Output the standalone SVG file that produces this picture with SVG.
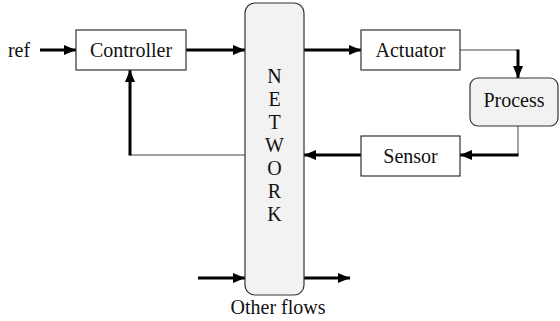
<svg xmlns="http://www.w3.org/2000/svg" width="560" height="321" viewBox="0 0 560 321">
<style>
.box{fill:#fff;stroke:#333;stroke-width:1.2}
.gray{fill:#f2f2f2;stroke:#333;stroke-width:1.2}
text{font-family:'Liberation Serif','Times New Roman','DejaVu Serif',serif;font-size:20px;fill:#111;text-anchor:middle}
.thick{fill:none;stroke:#000;stroke-width:3}
.thin{fill:none;stroke:#444;stroke-width:1}
</style>
<defs>
<marker id="ah" markerUnits="userSpaceOnUse" markerWidth="12" markerHeight="10" refX="12" refY="5" orient="auto">
<path d="M0,0 L12,5 L0,10 z" fill="#000"/>
</marker>
</defs>
<g id="connectors">
<line class="thick" x1="40" y1="50" x2="76" y2="50" marker-end="url(#ah)"/>
<line class="thick" x1="186" y1="50" x2="245" y2="50" marker-end="url(#ah)"/>
<line class="thick" x1="304" y1="50" x2="361" y2="50" marker-end="url(#ah)"/>
<line class="thin" x1="460" y1="50" x2="518" y2="50"/>
<line class="thick" x1="518" y1="49.5" x2="518" y2="78" marker-end="url(#ah)"/>
<line class="thin" x1="518" y1="126" x2="518" y2="155"/>
<line class="thick" x1="518.5" y1="155" x2="460" y2="155" marker-end="url(#ah)"/>
<line class="thick" x1="361" y1="155" x2="304" y2="155" marker-end="url(#ah)"/>
<line class="thin" x1="245" y1="155" x2="130" y2="155"/>
<line class="thick" x1="130" y1="155.5" x2="130" y2="70" marker-end="url(#ah)"/>
<line class="thick" x1="198" y1="278" x2="245" y2="278" marker-end="url(#ah)"/>
<line class="thick" x1="304" y1="278" x2="350" y2="278" marker-end="url(#ah)"/>
</g>
<text x="19" y="57" font-family="Liberation Serif, serif">ref</text>
<g id="controller">
<rect class="box" x="76" y="30" width="110" height="40"/>
<text x="131" y="57" font-family="Liberation Serif, serif">Controller</text>
</g>
<g id="network" font-family="Liberation Serif, serif">
<rect class="gray" x="245" y="3" width="59" height="292" rx="10" ry="10"/>
<text x="274.5" y="83">N</text>
<text x="274.5" y="106">E</text>
<text x="274.5" y="129">T</text>
<text x="274.5" y="152">W</text>
<text x="274.5" y="175">O</text>
<text x="274.5" y="198">R</text>
<text x="274.5" y="221">K</text>
</g>
<g id="actuator">
<rect class="box" x="361" y="30" width="99" height="40"/>
<text x="410.5" y="57">Actuator</text>
</g>
<g id="process">
<rect class="gray" x="470" y="78" width="88" height="48" rx="8" ry="8"/>
<text x="514" y="107">Process</text>
</g>
<g id="sensor">
<rect class="box" x="361" y="136" width="99" height="40"/>
<text x="410.5" y="163">Sensor</text>
</g>
<text x="278" y="314">Other flows</text>
</svg>
